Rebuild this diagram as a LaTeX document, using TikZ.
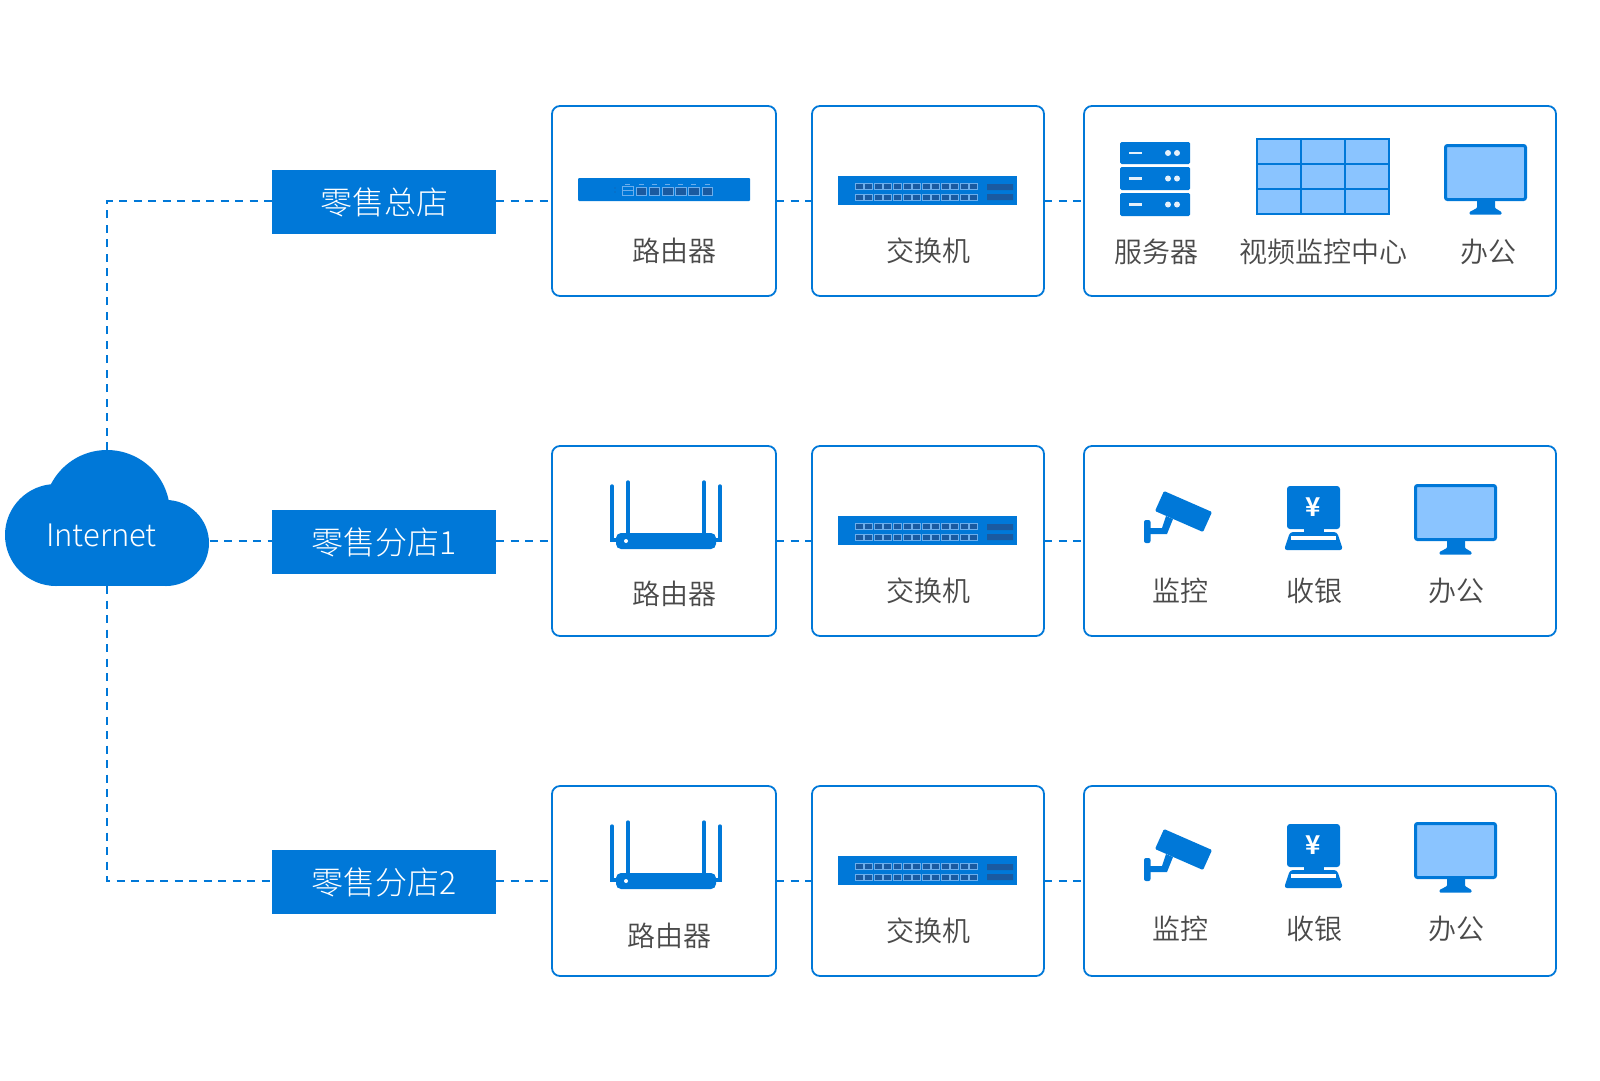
\documentclass[tikz,border=0pt]{standalone}
\usepackage{fontspec}
\setmainfont{Noto Sans CJK SC}[UprightFont=* Light,BoldFont=* Bold]
\newfontfamily\capfont{Noto Sans CJK SC DemiLight}
\definecolor{mainblue}{HTML}{0078D8}
\definecolor{skyblue}{HTML}{8AC4FF}
\definecolor{portdark}{HTML}{1A5AA0}
\definecolor{portline}{HTML}{6CAEEC}
\definecolor{txtgray}{HTML}{4A4A4A}
\tikzset{
  panel/.style={draw=mainblue,fill=white,line width=1.8pt,rounded corners=8pt,inner sep=0pt,outer sep=0pt},
  shoplabel/.style={fill=mainblue,text=white,minimum width=224pt,minimum height=64pt,inner sep=0pt,outer sep=0pt,font=\fontsize{32}{36}\selectfont},
  caption/.style={text=txtgray,inner sep=0pt,font=\capfont\fontsize{28}{32}\selectfont},
  link/.style={draw=mainblue,line width=1.8pt,dash pattern=on 8pt off 6.5pt},
}
\newcommand{\lanport}[4]{%
  \fill[portdark] (#1,#2) rectangle ++(#3,#4);
  \fill[mainblue] (#1,#2) rectangle ++(#3,#4*0.15);
  \draw[portline,line width=0.7pt] (#1,#2) rectangle ++(#3,#4);
}
\newcommand{\slimrouter}[2]{\begin{scope}[shift={(#1,#2)}]
  \fill[mainblue,rounded corners=1pt] (0,0) rectangle (172,23);
  \fill[portdark] (37,10) circle[radius=0.6pt] (37,14) circle[radius=0.6pt];
  \draw[portline,line width=0.8pt] (44,8) rectangle (55,17) (44,12.5) -- (55,12.5);
  \draw[portline,line width=0.5pt] (47,6) -- (52,6);
  \foreach \k in {0,...,5}{
    \lanport{58+13.2*\k}{9}{10.5}{8.5}
    \draw[portline,line width=0.5pt] (60.5+13.2*\k,6) -- (65.5+13.2*\k,6);
  }
\end{scope}}
\newcommand{\switchicon}[2]{\begin{scope}[shift={(#1,#2)}]
  \fill[mainblue] (0,0) rectangle (179,29);
  \foreach \k in {0,...,12}{
    \lanport{17.2+9.53*\k}{7}{8}{6.3}
    \lanport{17.2+9.53*\k}{18}{8}{6.3}
  }
  \fill[portdark] (149,8) rectangle (175,14) (149,18) rectangle (175,24);
\end{scope}}
\newcommand{\antennarouter}[2]{\begin{scope}[shift={(#1,#2)}]
  \draw[mainblue,line width=3.4pt,line cap=round] (0,5) -- (0,59) -- (6,59);
  \draw[mainblue,line width=3.4pt,line cap=round] (108,5) -- (108,59) -- (102,59);
  \draw[mainblue,line width=3.4pt,line cap=round] (16,1) -- (16,55) (92,1) -- (92,55);
  \fill[mainblue,rounded corners=5pt] (4,52) rectangle (104,68);
  \fill[white] (14,60) circle[radius=2pt];
\end{scope}}
\newcommand{\monitoricon}[2]{\begin{scope}[shift={(#1,#2)}]
  \draw[mainblue,fill=skyblue,line width=3pt,rounded corners=2pt] (1.5,1.5) rectangle (81.5,55.5);
  \fill[mainblue,rounded corners=0.8pt] (33,56) -- (51,56) -- (51,64) -- (57.5,68) -- (57.5,70.5) -- (25.5,70.5) -- (25.5,68) -- (33,64) -- cycle;
\end{scope}}
\newcommand{\cameraicon}[2]{\begin{scope}[shift={(#1,#2)}]
  \fill[mainblue,rounded corners=1.2pt] (20,1) -- (68,22) -- (59,42) -- (11,21) -- cycle;
  \fill[mainblue] (6,38) -- (18,38) -- (22,26) -- (29,29) -- (23,44) -- (6,44) -- cycle;
  \fill[mainblue,rounded corners=2pt] (0,30) rectangle (6.5,53);
\end{scope}}
\newcommand{\tillicon}[2]{\begin{scope}[shift={(#1,#2)}]
  \fill[mainblue,rounded corners=3pt] (3,0) rectangle (56,43);
  \fill[mainblue] (20,42) rectangle (40,48);
  \fill[mainblue,rounded corners=3pt] (6,46) -- (53,46) -- (59,64) -- (0,64) -- cycle;
  \fill[white] (7,50) rectangle (52,53.5);
\end{scope}}
\newcommand{\servericon}[2]{\begin{scope}[shift={(#1,#2)}]
  \foreach \ya/\yb in {0/22,25/48,51/74}{
    \fill[mainblue,rounded corners=1.5pt] (0,\ya) rectangle (70,\yb);
    \fill[white!90!mainblue] (9,{(\ya+\yb)/2-1.3}) rectangle (22,{(\ya+\yb)/2+1.3});
    \fill[white!90!mainblue] (48,{(\ya+\yb)/2}) circle[radius=3pt] (57,{(\ya+\yb)/2}) circle[radius=3pt];
  }
\end{scope}}
\begin{document}
\begin{tikzpicture}[x=1pt,y=-1pt]
\useasboundingbox[fill=white] (0,0) rectangle (1600,1080);

% cloud
\fill[mainblue] (107,513) circle[radius=63pt];
\fill[mainblue] (56,535) circle[radius=51pt];
\fill[mainblue] (166,543) circle[radius=43pt];
\fill[mainblue] (56,510) rectangle (166,586);
\node[minimum width=205pt,minimum height=136pt,inner sep=0pt,outer sep=0pt] (cloud) at (107,518) {};
\node[text=white,inner sep=0pt,font=\fontsize{31}{36}\selectfont] (nettext) at (101.5,535) {Internet};

% row panels
\node[panel,minimum width=224pt,minimum height=190pt] (boxa1) at (664,201) {};
\node[panel,minimum width=232pt,minimum height=190pt] (boxa2) at (928,201) {};
\node[panel,minimum width=472pt,minimum height=190pt] (boxa3) at (1320,201) {};
\node[panel,minimum width=224pt,minimum height=190pt] (boxb1) at (664,541) {};
\node[panel,minimum width=232pt,minimum height=190pt] (boxb2) at (928,541) {};
\node[panel,minimum width=472pt,minimum height=190pt] (boxb3) at (1320,541) {};
\node[panel,minimum width=224pt,minimum height=190pt] (boxc1) at (664,881) {};
\node[panel,minimum width=232pt,minimum height=190pt] (boxc2) at (928,881) {};
\node[panel,minimum width=472pt,minimum height=190pt] (boxc3) at (1320,881) {};

% shop labels
\node[shoplabel] (shopa) at (384,202) {零售总店};
\node[shoplabel] (shopb) at (384,542) {零售分店1};
\node[shoplabel] (shopc) at (384,882) {零售分店2};

% connectors
\draw[link] (cloud.north) |- (shopa.west |- boxa1.west);
\draw[link] (cloud.south) |- (shopc.west |- boxc1.west);
\draw[link] (cloud.east |- boxb1.west) -- (shopb.west |- boxb1.west);
\draw[link] (shopa.east |- boxa1.west) -- (boxa1.west);
\draw[link] (shopb.east |- boxb1.west) -- (boxb1.west);
\draw[link] (shopc.east |- boxc1.west) -- (boxc1.west);
\draw[link] (boxa1.east) -- (boxa2.west);
\draw[link] (boxb1.east) -- (boxb2.west);
\draw[link] (boxc1.east) -- (boxc2.west);
\draw[link] (boxa2.east) -- (boxa3.west);
\draw[link] (boxb2.east) -- (boxb3.west);
\draw[link] (boxc2.east) -- (boxc3.west);

% row 1 icons
\slimrouter{578}{178}
\switchicon{838}{176}
\servericon{1120}{142}
\draw[mainblue,fill=skyblue,line width=1.8pt] (1257,139) rectangle (1389,214);
\draw[mainblue,line width=1.8pt] (1301,139) -- (1301,214) (1345,139) -- (1345,214) (1257,164) -- (1389,164) (1257,189) -- (1389,189);
\monitoricon{1444}{144}

% row 2 icons
\antennarouter{612}{481}
\switchicon{838}{516}
\cameraicon{1144}{490}
\tillicon{1284}{486}
\monitoricon{1414}{484}

% row 3 icons
\antennarouter{612}{821}
\switchicon{838}{856}
\cameraicon{1144}{828}
\tillicon{1284}{824}
\monitoricon{1414}{822}

% yen signs
\node[text=white,inner sep=0pt,font=\fontsize{26}{28}\selectfont\bfseries] (yenb) at (1313,507) {¥};
\node[text=white,inner sep=0pt,font=\fontsize{26}{28}\selectfont\bfseries] (yenc) at (1313,845) {¥};

% captions
\node[caption] (ta1) at (674,251) {路由器};
\node[caption] (ta2) at (928,251) {交换机};
\node[caption] (ta3) at (1156,252) {服务器};
\node[caption] (ta4) at (1323,252) {视频监控中心};
\node[caption] (ta5) at (1488,252) {办公};
\node[caption] (tb1) at (674,594) {路由器};
\node[caption] (tb2) at (928,590.5) {交换机};
\node[caption] (tb3) at (1180,590.5) {监控};
\node[caption] (tb4) at (1314,590.5) {收银};
\node[caption] (tb5) at (1456,590.5) {办公};
\node[caption] (tc1) at (669,936) {路由器};
\node[caption] (tc2) at (928,930.5) {交换机};
\node[caption] (tc3) at (1180,928.5) {监控};
\node[caption] (tc4) at (1314,928.5) {收银};
\node[caption] (tc5) at (1456,928.5) {办公};
\end{tikzpicture}
\end{document}
